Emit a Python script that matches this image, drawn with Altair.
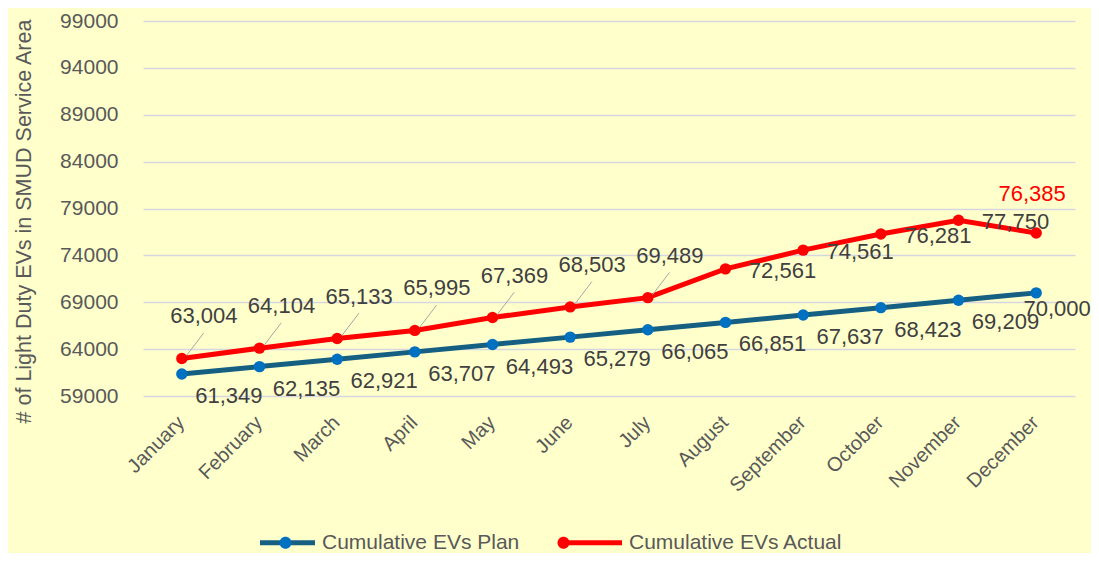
import json
import altair as alt
import pandas as pd

months = ["January", "February", "March", "April", "May", "June", "July",
          "August", "September", "October", "November", "December"]
plan = [61349, 62135, 62921, 63707, 64493, 65279, 66065, 66851, 67637, 68423, 69209, 70000]
actual = [63004, 64104, 65133, 65995, 67369, 68503, 69489, 72561, 74561, 76281, 77750, 76385]
y_ticks = [59000, 64000, 69000, 74000, 79000, 84000, 89000, 94000, 99000]
series_names = ["Cumulative EVs Plan", "Cumulative EVs Actual"]
line_colors = ["#156082", "#FF0000"]
marker_colors = ["#0070C0", "#FF0000"]

rows = []
for i, m in enumerate(months):
    rows.append({"idx": i, "month": m, "series": series_names[0], "value": plan[i]})
    rows.append({"idx": i, "month": m, "series": series_names[1], "value": actual[i]})
df = pd.DataFrame(rows)
df["series_pt"] = df["series"]

FONT = "Liberation Sans"
GRAY = "#595959"
LBL = "#404040"

x_enc = alt.X(
    "idx:Q",
    scale=alt.Scale(domain=[-0.5, 11.5], nice=False, zero=False),
    axis=alt.Axis(
        values=list(range(12)),
        labelExpr=json.dumps(months) + "[datum.value]",
        labelAngle=-45, labelFontSize=20, labelColor=GRAY, labelFont=FONT,
        labelPadding=16, labelOffset=-8, labelOverlap=False, labelBound=False,
        ticks=False, domain=False, grid=False, title=None,
    ),
)
y_enc = alt.Y(
    "value:Q",
    scale=alt.Scale(domain=[59000, 99000], nice=False, zero=False),
    axis=alt.Axis(
        values=y_ticks, format="d", labelFontSize=21, labelColor=GRAY, labelFont=FONT,
        labelPadding=25, ticks=False, domain=False, grid=True,
        gridColor="#D6D6DE", gridWidth=1.3,
        title="# of Light Duty EVs in SMUD Service Area",
        titleFontSize=21.5, titleFont=FONT, titleColor=GRAY, titleFontWeight="normal",
        titleX=-108, titleY=200,
    ),
)

base = alt.Chart(df)

legend_common = dict(
    orient="none", legendX=132, legendY=509, direction="horizontal", title=None,
    symbolSize=400, labelOffset=22, columnPadding=37, labelLimit=400,
    labelFontSize=21, labelColor=GRAY, labelFont=FONT,
)

lines = base.mark_line(strokeWidth=5).encode(
    x=x_enc, y=y_enc,
    stroke=alt.Stroke(
        "series:N", sort=series_names,
        scale=alt.Scale(range=line_colors),
        legend=alt.Legend(symbolType="M-2.75,0H2.75", symbolStrokeWidth=5, **legend_common),
    ),
    detail="series:N",
)

points = base.mark_circle(size=130, opacity=1).encode(
    x="idx:Q", y="value:Q",
    fill=alt.Fill(
        "series_pt:N", sort=series_names,
        scale=alt.Scale(range=marker_colors),
        legend=alt.Legend(
            symbolType="M0.6,0.2A0.6,0.6 0 1,1 -0.6,0.2A0.6,0.6 0 1,1 0.6,0.2Z",
            symbolStrokeWidth=0, labelOpacity=0, symbolOpacity=1, **legend_common),
    ),
)

is_actual = "datum.series == 'Cumulative EVs Actual'"
is_plan = "datum.series == 'Cumulative EVs Plan'"

leaders = base.transform_filter(is_actual + " && datum.idx <= 6").transform_calculate(
    lx1="datum.idx + 0.05", lx2="datum.idx + 0.28",
    ly1="datum.value + 200", ly2="datum.value + 2700",
).mark_rule(color="#A6A6A6", strokeWidth=1).encode(
    x="lx1:Q", x2="lx2:Q", y="ly1:Q", y2="ly2:Q",
)


def labels(filt, dx, dy, color=LBL):
    return base.transform_filter(filt).mark_text(
        fontSize=22, font=FONT, color=color, dx=dx, dy=dy,
    ).encode(x="idx:Q", y="value:Q", text=alt.Text("value:Q", format=",d"))


red_early = labels(is_actual + " && datum.idx <= 6", 22, -42)
red_late = labels(is_actual + " && datum.idx >= 7 && datum.idx <= 10", 57, 2)
red_last = labels(is_actual + " && datum.idx == 11", -4, -39, "#FF0000")
blue_main = labels(is_plan + " && datum.idx <= 10", 47, 22)
blue_last = labels(is_plan + " && datum.idx == 11", 21, 16)

chart = alt.layer(
    lines, leaders, points, red_early, red_late, red_last, blue_main, blue_last
).properties(
    width=932, height=375,
    autosize=alt.AutoSizeParams(type="none"),
    padding={"left": 135, "top": 13, "right": 16, "bottom": 157},
).configure(
    background="#FFFFCC", font=FONT,
).configure_view(stroke=None)

chart.save("out.html", embed_options={"renderer": "svg", "actions": False})
